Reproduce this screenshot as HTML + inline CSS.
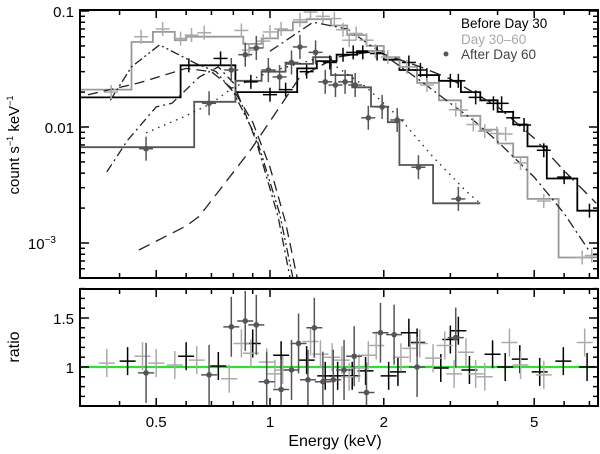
<!DOCTYPE html>
<html><head><meta charset="utf-8"><style>
html,body{margin:0;padding:0;background:#fff}
svg{display:block;font-family:"Liberation Sans",sans-serif}
</style></head><body>
<svg id="chart" width="600" height="454" viewBox="0 0 600 454"></svg>
<script>
// ---------- data ----------
const beforeModel=[[0.314,0.58,0.018],[0.58,0.81,0.034],[0.81,1.18,0.020],[1.18,1.33,0.032],[1.33,1.5,0.037],[1.5,1.7,0.042],[1.7,2.0,0.045],[2.0,2.2,0.038],[2.2,2.45,0.031],[2.45,2.8,0.028],[2.8,3.2,0.025],[3.2,3.6,0.02],[3.6,4.0,0.017],[4.0,4.4,0.0135],[4.4,4.8,0.0105],[4.8,5.4,0.0068],[5.4,6.5,0.0036],[6.5,7.4,0.0019]];
const midModel=[[0.314,0.43,0.021],[0.43,0.49,0.054],[0.49,0.56,0.066],[0.56,0.6,0.056],[0.6,0.68,0.06],[0.68,0.85,0.06],[0.85,0.95,0.052],[0.95,1.05,0.058],[1.05,1.15,0.068],[1.15,1.25,0.08],[1.25,1.45,0.085],[1.45,1.6,0.075],[1.6,1.8,0.062],[1.8,2.0,0.05],[2.0,2.2,0.04],[2.2,2.45,0.033],[2.45,2.8,0.024],[2.8,3.2,0.017],[3.2,3.6,0.0125],[3.6,4.0,0.0095],[4.0,4.4,0.0072],[4.4,4.8,0.0055],[4.8,5.8,0.0024],[5.8,7.4,0.00075]];
const lateModel=[[0.314,0.63,0.0067],[0.63,0.81,0.0165],[0.81,0.95,0.025],[0.95,1.1,0.03],[1.1,1.3,0.035],[1.3,1.45,0.04],[1.45,1.65,0.028],[1.65,1.85,0.022],[1.85,2.05,0.015],[2.05,2.2,0.011],[2.2,2.7,0.0047],[2.7,3.6,0.0022]];
const beforeData=[[0.61,0.034],[0.74,0.039],[0.89,0.0245],[1.0,0.019],[1.1,0.021],[1.25,0.03],[1.44,0.036],[1.56,0.042],[1.66,0.044],[1.76,0.044],[1.92,0.043],[2.33,0.036],[2.5,0.031],[2.6,0.028],[3.0,0.025],[3.15,0.025],[3.5,0.018],[3.9,0.016],[4.1,0.016],[4.4,0.012],[4.7,0.0104],[5.3,0.0063],[6.0,0.0037],[7.0,0.0019]];
const midData=[[0.38,0.02],[0.456,0.06],[0.52,0.07],[0.58,0.058],[0.62,0.062],[0.67,0.065],[0.84,0.068],[0.88,0.046],[0.96,0.055],[1.0,0.066],[1.07,0.07],[1.2,0.084],[1.28,0.098],[1.38,0.09],[1.48,0.086],[1.56,0.069],[1.62,0.056],[1.69,0.064],[1.8,0.056],[1.9,0.045],[2.05,0.04],[2.3,0.033],[2.6,0.023],[3.1,0.0141],[3.2,0.014],[3.45,0.0105],[3.7,0.0092],[3.98,0.0088],[4.2,0.0087],[4.6,0.0049],[5.3,0.0023],[6.7,0.00075],[7.1,0.00078]];
const lateData=[[0.47,0.0065],[0.69,0.016],[0.79,0.031],[0.86,0.042],[0.92,0.048],[0.99,0.031],[1.06,0.027],[1.14,0.036],[1.2,0.049],[1.32,0.044],[1.4,0.0245],[1.49,0.023],[1.58,0.0245],[1.68,0.023],[1.82,0.012],[1.98,0.0149],[2.17,0.0115],[2.47,0.0045],[3.15,0.0024]];
const compBeforeSoft=[[0.33,0.019],[0.45,0.024],[0.6,0.032],[0.7,0.03],[0.8,0.021],[0.9,0.011],[1.0,0.0045],[1.1,0.0015],[1.18,0.0005]];
const compBeforeHard=[[0.45,0.00087],[0.6,0.0014],[0.65,0.0017],[0.89,0.0064],[1.2,0.027],[1.5,0.04],[1.9,0.045],[2.5,0.033],[3,0.026],[4,0.015],[5,0.008],[6,0.0042],[7.3,0.0022]];
const compMidSoft=[[0.378,0.017],[0.43,0.033],[0.51,0.051],[0.64,0.035],[0.72,0.03],[0.8,0.02],[0.92,0.0081],[1.06,0.0018],[1.15,0.0005]];
const compLateSoft=[[0.37,0.0041],[0.42,0.0077],[0.5,0.0149],[0.55,0.016],[0.65,0.027],[0.73,0.033],[0.8,0.024],[0.92,0.0075],[1.05,0.0017],[1.13,0.0005]];
const compMidHard=[[1.0,0.045],[1.3,0.08],[1.6,0.07],[2,0.042],[2.5,0.025],[3,0.016],[3.5,0.011],[4,0.0075],[5,0.0037],[6,0.0018],[7,0.00085]];
const compLateTotal=[[0.47,0.0089],[0.6,0.0125],[0.7,0.016],[0.8,0.022],[1,0.03],[1.3,0.038],[1.5,0.033],[1.8,0.022],[2.2,0.012],[2.7,0.0055],[3.3,0.0028],[3.6,0.0022]];
const ratioBefore=[[0.42,1.06],[0.6,1.11],[0.73,1.01],[0.9,1.24],[1.07,1.12],[1.25,1.07],[1.4,0.91],[1.51,0.91],[1.65,0.91],[1.79,0.96],[2.06,0.91],[2.18,0.95],[2.33,1.35],[2.45,1.25],[2.83,0.99],[3.0,1.28],[3.15,1.37],[3.37,0.97],[3.88,1.13],[4.19,1.0],[4.58,1.08],[5.17,0.95],[5.97,1.06],[6.9,1.0]];
const ratioMid=[[0.37,1.04],[0.46,1.11],[0.5,1.04],[0.56,1.02],[0.64,1.07],[0.78,0.88],[0.84,1.24],[0.89,1.14],[0.98,1.05],[1.03,0.93],[1.08,0.97],[1.28,1.26],[1.36,1.13],[1.46,1.1],[1.55,1.07],[1.62,0.9],[1.72,0.99],[1.82,1.12],[1.91,1.22],[2.22,1.1],[2.35,1.19],[2.49,1.24],[2.7,1.09],[2.9,1.22],[3.07,0.93],[3.3,1.15],[3.5,0.93],[3.7,0.9],[4.3,1.25],[4.6,1.02],[5.3,0.92],[6.8,1.25]];
const ratioLate=[[0.47,0.94],[0.69,0.92],[0.79,1.41],[0.86,1.47],[0.92,1.43],[0.98,0.85],[1.07,0.77],[1.14,0.97],[1.19,1.24],[1.26,0.87],[1.31,1.40],[1.38,0.85],[1.47,0.87],[1.57,0.97],[1.67,1.11],[1.8,0.74],[1.96,1.35],[2.13,1.33],[2.45,1.0],[3.1,1.3]];
const xTicks=[0.5,1,2,5];
const yTicks=[0.1,0.01,0.001];
const rTicks=[1,1.5];

// ---------- axes ----------
const L=80,R=598,T1=10,B1=278,T2=289,B2=406;
const X=e=>270+378*Math.log10(e);
const Y=v=>11+116*(-1-Math.log10(v));
const YR=r=>367-98*(r-1);
const NS="http://www.w3.org/2000/svg";
const svg=document.getElementById('chart');
function mk(tag,attrs,parent){const el=document.createElementNS(NS,tag);for(const k in attrs)el.setAttribute(k,attrs[k]);(parent||svg).appendChild(el);return el;}
const defs=mk('defs',{});
const c1=mk('clipPath',{id:'cTop'},defs);mk('rect',{x:L,y:T1,width:R-L,height:B1-T1},c1);
const c2=mk('clipPath',{id:'cBot'},defs);mk('rect',{x:L,y:T2,width:R-L,height:B2-T2},c2);
const gTop=mk('g',{'clip-path':'url(#cTop)'});


const gBot=mk('g',{'clip-path':'url(#cBot)'});



function stepPath(arr,yf){let d='';arr.forEach((s,i)=>{const y=yf(s[2]);d+=(i?'L':'M')+X(s[0]).toFixed(1)+','+y.toFixed(1)+'L'+X(s[1]).toFixed(1)+','+y.toFixed(1);});return d;}
function linePath(arr){return arr.map((p,i)=>(i?'L':'M')+X(p[0]).toFixed(1)+','+Y(p[1]).toFixed(1)).join('');}

// models
[[beforeModel,'#000','before-model'],[midModel,'#999','mid-model'],[lateModel,'#555','late-model']].forEach(([a,c,n])=>{
  const p=mk('path',{d:stepPath(a,Y),fill:'none',stroke:c,'stroke-width':1.8},gTop);
  
  
});
[[compBeforeSoft,'10,6','before-soft-component'],[compBeforeHard,'12,7','before-hard-component'],[compMidSoft,'9,3,2,3,2,3','mid-soft-component'],[compLateSoft,'9,4,2,4','late-soft-component'],[compMidHard,'10,4,2,4','mid-hard-component'],[compLateTotal,'1.5,5','late-total-model']].forEach(([a,da,n])=>{
  const p=mk('path',{d:linePath(a),fill:'none',stroke:'#222','stroke-width':1.3,'stroke-dasharray':da},gTop);
  
  
});
function cross(g,x,y,dx,dyU,dyD,c,dot){
  mk('line',{x1:x-dx,x2:x+dx,y1:y,y2:y,stroke:c,'stroke-width':1.5},g);
  mk('line',{x1:x,x2:x,y1:y-dyU,y2:y+dyD,stroke:c,'stroke-width':1.5},g);
  if(dot)mk('circle',{cx:x,cy:y,r:2.8,fill:c},g);
}
[[beforeData,'#000',0,7,'before-data'],[midData,'#aaa',0,7,'mid-data'],[lateData,'#555',1,12,'late-data']].forEach(([a,c,dot,ey,n])=>{
  a.forEach(p=>{const g=mk('g',{},gTop);
    
    
    cross(g,X(p[0]),Y(p[1]),7,ey,ey,c,dot);});
});
// ratio
mk('line',{x1:L,x2:R,y1:YR(1),y2:YR(1),stroke:'#33dd33','stroke-width':2.2},gBot);
[[ratioBefore,'#000',0,14,'ratio-before'],[ratioMid,'#aaa',0,14,'ratio-mid'],[ratioLate,'#555',1,30,'ratio-late']].forEach(([a,c,dot,ey,n])=>{
  a.forEach(p=>{const g=mk('g',{},gBot);
    
    
    cross(g,X(p[0]),YR(p[1]),8,ey,ey,c,dot);});
});

// frames & ticks
function frame(t,b,n){const r=mk('rect',{x:L,y:t,width:R-L,height:b-t,fill:'none',stroke:'#000','stroke-width':2});}
frame(T1,B1,'spectrum-frame');frame(T2,B2,'ratio-frame');
function tk(x1,y1,x2,y2){mk('line',{x1,y1,x2,y2,stroke:'#000','stroke-width':1.5});}
for(let d=-1;d<=0;d++)for(let m=1;m<10;m++){const e=m*Math.pow(10,d);if(e<0.315||e>7.35)continue;const x=X(e);const len=(m==1||m==5||m==2)&&xTicks.includes(+e.toFixed(3))?8:5;
  [[T1,B1],[T2,B2]].forEach(([t,b])=>{tk(x,t,x,t+len);tk(x,b,x,b-len);});}
for(let d=-4;d<=-1;d++)for(let m=1;m<10;m++){const v=m*Math.pow(10,d);const y=Y(v);if(y<T1-0.5||y>B1)continue;const len=m==1?9:5;tk(L,y,L+len,y);tk(R,y,R-len,y);}
for(let r=0.6;r<=1.81;r+=0.1){const y=YR(r);const big=Math.abs(r-1)<0.01||Math.abs(r-1.5)<0.01;tk(L,y,L+(big?9:5),y);tk(R,y,R-(big?9:5),y);}
function txt(s,x,y,attrs,n){const t=mk('text',Object.assign({x,y,'font-size':15,fill:'#000'},attrs||{}));t.textContent=s;return t;}
const xl=['0.5','1','2','5'];
xTicks.forEach((e,i)=>txt(xl[i],X(e),427,{'text-anchor':'middle'},'x-tick-label'));
txt('0.1',74,17,{'text-anchor':'end'},'y-tick-label');
txt('0.01',74,133,{'text-anchor':'end'},'y-tick-label');
const t3=txt('10',62,249,{'text-anchor':'end'},'y-tick-label');
const sup=mk('tspan',{dy:-6,'font-size':10});sup.textContent='−3';t3.appendChild(sup);t3.setAttribute('x',56);
txt('1.5',74,324,{'text-anchor':'end'},'ratio-tick-label');
txt('1',74,373,{'text-anchor':'end'},'ratio-tick-label');
txt('Energy (keV)',335,446,{'text-anchor':'middle','font-size':16},'x-axis-title');
const yt=txt('count s',0,0,{'text-anchor':'middle','font-size':15,transform:'translate(19,145) rotate(-90)'},'y-axis-title');
yt.innerHTML='count s<tspan dy="-6" font-size="9">−1</tspan><tspan dy="6"> keV</tspan><tspan dy="-6" font-size="9">−1</tspan>';
txt('ratio',0,0,{'text-anchor':'middle','font-size':16,transform:'translate(19,347) rotate(-90)'},'ratio-axis-title');
// legend
txt('Before Day 30',461,28,{'font-size':13.5},'legend-before');
txt('Day 30–60',461,44,{'font-size':13.5,fill:'#aaa'},'legend-mid');
txt('After Day 60',461,59,{'font-size':13.5,fill:'#444'},'legend-late');
const ld=mk('circle',{cx:446,cy:54,r:2.5,fill:'#555'});
</script>
</body></html>
